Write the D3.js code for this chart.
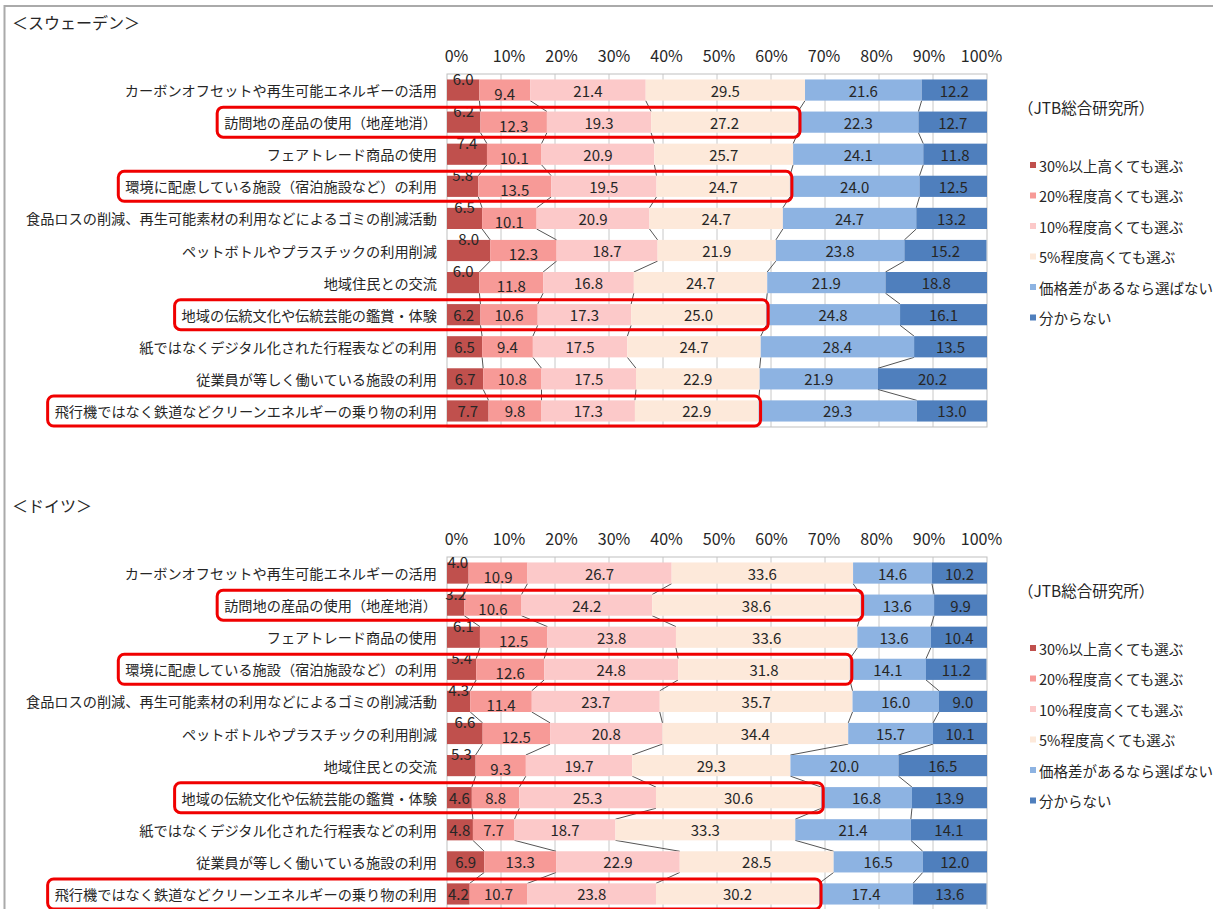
<!DOCTYPE html>
<html>
<head>
<meta charset="utf-8">
<script src="https://cdn.jsdelivr.net/npm/d3@7"></script>
<style>
  body { margin: 0; background: #fff; }
  text { font-family: "Noto Sans CJK JP", "Noto Sans", sans-serif; fill: #262626; }
</style>
</head>
<body>
<svg id="chart" width="1213" height="909"></svg>
<script>
// items (same for both countries)
var items = [
  "カーボンオフセットや再生可能エネルギーの活用",
  "訪問地の産品の使用（地産地消）",
  "フェアトレード商品の使用",
  "環境に配慮している施設（宿泊施設など）の利用",
  "食品ロスの削減、再生可能素材の利用などによるゴミの削減活動",
  "ペットボトルやプラスチックの利用削減",
  "地域住民との交流",
  "地域の伝統文化や伝統芸能の鑑賞・体験",
  "紙ではなくデジタル化された行程表などの利用",
  "従業員が等しく働いている施設の利用",
  "飛行機ではなく鉄道などクリーンエネルギーの乗り物の利用"
];
var seriesNames = ["30%以上高くても選ぶ", "20%程度高くても選ぶ", "10%程度高くても選ぶ",
  "5%程度高くても選ぶ", "価格差があるなら選ばない", "分からない"];
var colors = ["#c0504d", "#f79a97", "#fcc9c9", "#fde9da", "#8db3e2", "#4f7fbd"];
var ticks = [0, 10, 20, 30, 40, 50, 60, 70, 80, 90, 100];
var highlighted = [1, 3, 7, 10];

// Sweden
var swe30 = [6.0, 6.2, 7.4, 5.8, 6.5, 8.0, 6.0, 6.2, 6.5, 6.7, 7.7];
var swe20 = [9.4, 12.3, 10.1, 13.5, 10.1, 12.3, 11.8, 10.6, 9.4, 10.8, 9.8];
var swe10 = [21.4, 19.3, 20.9, 19.5, 20.9, 18.7, 16.8, 17.3, 17.5, 17.5, 17.3];
var swe5 = [29.5, 27.2, 25.7, 24.7, 24.7, 21.9, 24.7, 25.0, 24.7, 22.9, 22.9];
var sweNo = [21.6, 22.3, 24.1, 24.0, 24.7, 23.8, 21.9, 24.8, 28.4, 21.9, 29.3];
var sweDk = [12.2, 12.7, 11.8, 12.5, 13.2, 15.2, 18.8, 16.1, 13.5, 20.2, 13.0];

// Germany
var deu30 = [4.0, 3.2, 6.1, 5.4, 4.3, 6.6, 5.3, 4.6, 4.8, 6.9, 4.2];
var deu20 = [10.9, 10.6, 12.5, 12.6, 11.4, 12.5, 9.3, 8.8, 7.7, 13.3, 10.7];
var deu10 = [26.7, 24.2, 23.8, 24.8, 23.7, 20.8, 19.7, 25.3, 18.7, 22.9, 23.8];
var deu5 = [33.6, 38.6, 33.6, 31.8, 35.7, 34.4, 29.3, 30.6, 33.3, 28.5, 30.2];
var deuNo = [14.6, 13.6, 13.6, 14.1, 16.0, 15.7, 20.0, 16.8, 21.4, 16.5, 17.4];
var deuDk = [10.2, 9.9, 10.4, 11.2, 9.0, 10.1, 16.5, 13.9, 14.1, 12.0, 13.6];

var svg = d3.select("#chart");

// outer frame
svg.append("rect")
  .attr("x", 4.5).attr("y", 6).attr("width", 1230).attr("height", 1000)
  .attr("fill", "none").attr("stroke", "#aaa").attr("stroke-width", 2);

var x = d3.scaleLinear().domain([0, 100]).range([447, 987]);
var xt = x.copy().range([456, 981]); // tick labels sit a little inside

function drawPanel(title, top, series) {
  var g = svg.append("g");

  g.append("text").attr("x", 12).attr("y", top - 52)
    .attr("dominant-baseline", "central").style("font-size", "16px")
    .text(title);

  var y = d3.scaleBand().domain(items).range([top, top + 353])
    .paddingInner(0.34).paddingOuter(0.17);

  // grid
  g.selectAll(".grid").data(ticks.slice(1, -1)).enter().append("line")
    .attr("x1", function (d) { return x(d); }).attr("x2", function (d) { return x(d); })
    .attr("y1", top).attr("y2", top + 353)
    .attr("stroke", "#c8c8c8").attr("stroke-width", 1);
  g.append("rect").attr("x", x(0)).attr("y", top)
    .attr("width", x(100) - x(0)).attr("height", 353)
    .attr("fill", "none").attr("stroke", "#bfbfbf");

  // tick labels
  var axis = g.append("g").attr("transform", "translate(0," + (top - 17) + ")")
    .call(d3.axisTop(xt).tickValues(ticks).tickFormat(function (d) { return d + "%"; }).tickSize(0));
  axis.select(".domain").remove();
  axis.selectAll("text").style("font-size", "16px").attr("fill", "#262626")
    .attr("dy", "0.32em").attr("y", 0);

  // rows
  var rows = items.map(function (name, i) {
    var acc = 0;
    var segs = series.map(function (s, k) {
      var seg = { k: k, v: s[i], x0: acc, x1: acc + s[i] };
      acc += s[i];
      return seg;
    });
    return { name: name, i: i, segs: segs };
  });

  // series lines between bars
  var bw = y.bandwidth();
  for (var i = 0; i < rows.length - 1; i++) {
    for (var k = 0; k < 5; k++) {
      g.append("line")
        .attr("x1", x(rows[i].segs[k].x1)).attr("y1", y(rows[i].name) + bw)
        .attr("x2", x(rows[i + 1].segs[k].x1)).attr("y2", y(rows[i + 1].name))
        .attr("stroke", "#555").attr("stroke-width", 1);
    }
  }

  var row = g.selectAll(".row").data(rows).enter().append("g");

  row.selectAll("rect").data(function (d) { return d.segs; }).enter().append("rect")
    .attr("x", function (d) { return x(d.x0); })
    .attr("width", function (d) { return Math.max(0, Math.min(x(d.x1), x(100)) - x(d.x0)); })
    .attr("y", function () { return y(d3.select(this.parentNode).datum().name); })
    .attr("height", bw)
    .attr("fill", function (d) { return colors[d.k]; });

  row.selectAll(".val").data(function (d) {
    return d.segs.map(function (s) { return { s: s, i: d.i, name: d.name }; });
  }).enter().append("text")
    .attr("x", function (d) { return x((d.s.x0 + Math.min(d.s.x1, 100)) / 2); })
    .attr("y", function (d) {
      var off = 0;
      if (d.i < 7 && d.s.k === 0) off = -12;
      if (d.i < 7 && d.s.k === 1) off = 3;
      return y(d.name) + bw / 2 + off;
    })
    .attr("text-anchor", "middle").attr("dominant-baseline", "central")
    .style("font-size", "15px")
    .text(function (d) { return d.s.v.toFixed(1); });

  // item labels
  var labels = row.append("text")
    .attr("x", 437).attr("y", function (d) { return y(d.name) + bw / 2; })
    .attr("text-anchor", "end").attr("dominant-baseline", "central")
    .style("font-size", "14.2px")
    .text(function (d) { return d.name; });

  // highlight boxes
  labels.each(function (d) {
    if (highlighted.indexOf(d.i) < 0) return;
    var w = this.getComputedTextLength();
    var cy = y(d.name) + bw / 2;
    g.append("rect")
      .attr("x", 437 - w - 7).attr("y", cy - 15)
      .attr("width", x(d.segs[3].x1) + 2 - (437 - w - 7)).attr("height", 30)
      .attr("rx", 6).attr("fill", "none")
      .attr("stroke", "#f00000").attr("stroke-width", 3);
  });

  // legend
  g.append("text").attr("x", 1026).attr("y", top + 33)
    .attr("dominant-baseline", "central").style("font-size", "15.5px")
    .text("（JTB総合研究所）").attr("dx", -8);
  var leg = g.selectAll(".leg").data(seriesNames).enter().append("g")
    .attr("transform", function (d, k) { return "translate(1030," + (top + 91 + k * 30.5) + ")"; });
  leg.append("rect").attr("x", 0).attr("y", -3).attr("width", 6).attr("height", 6)
    .attr("fill", function (d, k) { return colors[k]; });
  leg.append("text").attr("x", 9).attr("dominant-baseline", "central")
    .style("font-size", "14.5px").text(function (d) { return d; });
}

drawPanel("＜スウェーデン＞", 74, [swe30, swe20, swe10, swe5, sweNo, sweDk]);
drawPanel("＜ドイツ＞", 557, [deu30, deu20, deu10, deu5, deuNo, deuDk]);
</script>
</body>
</html>
